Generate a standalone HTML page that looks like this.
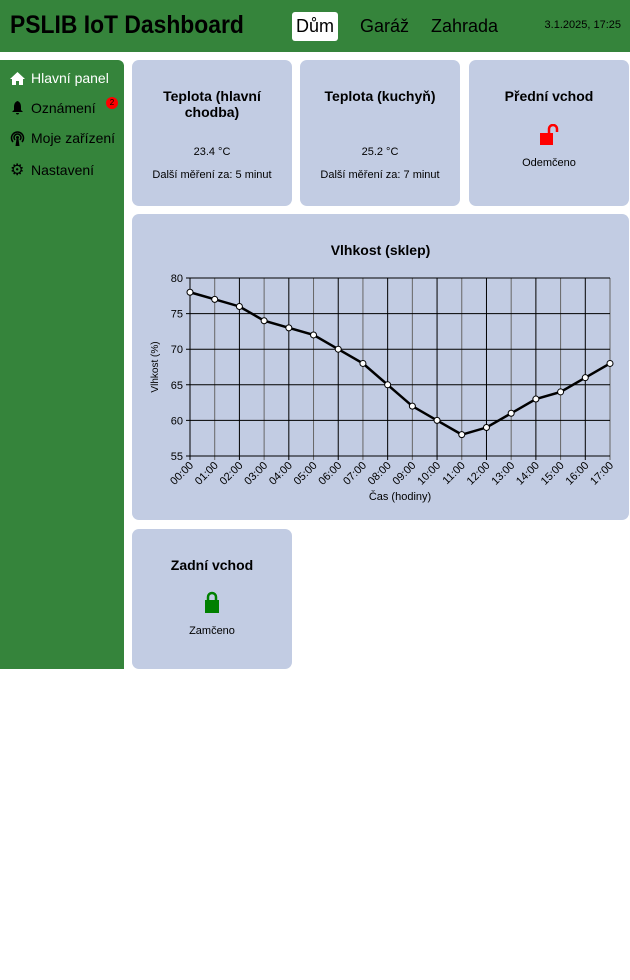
<!DOCTYPE html>
<html><head><meta charset="utf-8"><style>
*{box-sizing:border-box;margin:0;padding:0}
body{width:630px;height:980px;background:#fff;font-family:"Liberation Sans",sans-serif;position:relative;overflow:hidden}
#hdr{position:absolute;left:0;top:0;width:630px;height:52px;background:#35843b}
#title{position:absolute;left:10px;top:11px;font-size:25px;font-weight:bold;color:#000;transform:scaleX(0.915);transform-origin:0 0;white-space:nowrap}
.nav{position:absolute;top:12px;height:29px;font-size:18px;line-height:29px;padding:0 4px;color:#000;border-radius:3px}
#date{position:absolute;right:9px;top:19px;font-size:11px}
#side{position:absolute;left:0;top:60px;width:124px;height:609px;background:#35843b;border-radius:0 6px 0 0}
.si{position:absolute;left:10px;font-size:14px;color:#000;display:flex;align-items:center;gap:6px;white-space:nowrap}
.card{position:absolute;background:#c2cce3;border-radius:7px;text-align:center}
.ct{font-weight:bold;font-size:14px;line-height:16px}
.cs{font-size:11px}
</style></head><body>
<div id="hdr">
<div id="title">PSLIB IoT Dashboard</div>
<div class="nav" style="left:292px;background:#fff">Dům</div>
<div class="nav" style="left:356px">Garáž</div>
<div class="nav" style="left:427px">Zahrada</div>
<div id="date">3.1.2025, 17:25</div>
</div>
<div id="side">
<div class="si" style="top:10px;color:#fff"><svg width="15" height="13"><path d="M7.5 0L0 7h2v6h4V9h3v4h4V7h2z" fill="#fff"/></svg>Hlavní panel</div>
<div class="si" style="top:40px"><svg width="15" height="14"><path d="M7.5 0C5 1 4 3 4 6v3L2 11h11l-2-2V6c0-3-1-5-3.5-6zM6 12h3a1.5 1.5 0 0 1-3 0z" fill="#000"/></svg>Oznámení<span style="position:absolute;left:96px;top:-3px;width:12px;height:12px;border-radius:6px;background:red;font-size:8px;line-height:12px;text-align:center;color:#000">2</span></div>
<div class="si" style="top:70px"><svg width="15" height="15"><g fill="none" stroke="#000" stroke-width="1.5"><path d="M3 11a6 6 0 1 1 9 0"/><path d="M5 9a3.5 3.5 0 1 1 5 0"/></g><circle cx="7.5" cy="6.5" r="1.5"/><path d="M6.5 8h2l1 7h-4z"/></svg>Moje zařízení</div>
<div class="si" style="top:100px"><span style="font-size:16px;width:15px">⚙</span>Nastavení</div>
</div>
<div class="card" style="left:132px;top:60px;width:160px;height:146px">
<div class="ct" style="margin-top:28px">Teplota (hlavní<br>chodba)</div>
<div class="cs" style="margin-top:26px">23.4 °C</div>
<div class="cs" style="margin-top:11px">Další měření za: 5 minut</div></div>
<div class="card" style="left:300px;top:60px;width:160px;height:146px">
<div class="ct" style="margin-top:28px">Teplota (kuchyň)</div>
<div class="cs" style="margin-top:42px">25.2 °C</div>
<div class="cs" style="margin-top:11px">Další měření za: 7 minut</div></div>
<div class="card" style="left:469px;top:60px;width:160px;height:146px">
<div class="ct" style="margin-top:28px">Přední vchod</div>
<svg width="24" height="22" style="margin-top:20px;margin-left:4px"><rect x="1" y="9" width="13" height="12" fill="red"/><path d="M10 10V5a4 4 0 0 1 8 0v3" stroke="red" stroke-width="2.5" fill="none"/></svg>
<div class="cs" style="margin-top:6px">Odemčeno</div></div>
<div class="card" style="left:132px;top:214px;width:497px;height:306px">
<div class="ct" style="margin-top:28px">Vlhkost (sklep)</div></div>
<svg style="position:absolute;left:0;top:0" width="630" height="980" id="ch"></svg>
<div class="card" style="left:132px;top:529px;width:160px;height:140px">
<div class="ct" style="margin-top:28px">Zadní vchod</div>
<svg width="16" height="22" style="margin-top:18px"><rect x="1" y="9" width="14" height="13" fill="green"/><path d="M4 9V6a4 4 0 0 1 8 0v3" stroke="green" stroke-width="2.5" fill="none"/></svg>
<div class="cs" style="margin-top:7px">Zamčeno</div></div>
<script>
const categories=["00:00","01:00","02:00","03:00","04:00","05:00","06:00","07:00","08:00","09:00","10:00","11:00","12:00","13:00","14:00","15:00","16:00","17:00"];
const humidity=[78,77,76,74,73,72,70,68,65,62,60,58,59,61,63,64,66,68];
const yTicks=[55,60,65,70,75,80];
const NS="http://www.w3.org/2000/svg",svg=document.getElementById('ch');
const x0=190,x1=610,yTop=278,yBot=456;
const xs=i=>x0+i*(x1-x0)/(categories.length-1);
const ys=v=>yBot-(v-55)/(80-55)*(yBot-yTop);
function mk(t,a){const e=document.createElementNS(NS,t);for(const k in a)e.setAttribute(k,a[k]);svg.appendChild(e);return e;}
categories.forEach((c,i)=>{
 const l=mk('line',{x1:xs(i),x2:xs(i),y1:yTop,y2:yBot+4,stroke:i%2?'#666':'#000','stroke-width':1});
 
 
 const t=mk('text',{transform:`translate(${xs(i)+4},${yBot+10}) rotate(-45)`,'text-anchor':'end','font-size':11,'font-family':'Liberation Sans'});
 t.textContent=c;
 
 
});
yTicks.forEach(v=>{
 const l=mk('line',{x1:x0-4,x2:x1,y1:ys(v),y2:ys(v),stroke:'#000','stroke-width':1});
 
 
 const t=mk('text',{x:x0-7,y:ys(v)+4,'text-anchor':'end','font-size':11,'font-family':'Liberation Sans'});
 t.textContent=v;
 
 
});
const ln=mk('polyline',{points:humidity.map((v,i)=>xs(i)+','+ys(v)).join(' '),fill:'none',stroke:'#000','stroke-width':2.5});


humidity.forEach((v,i)=>{
 const c=mk('circle',{cx:xs(i),cy:ys(v),r:3,fill:'#fff',stroke:'#000','stroke-width':1});
 
 
});
const yt=mk('text',{transform:`translate(158,${(yTop+yBot)/2}) rotate(-90)`,'text-anchor':'middle','font-size':10,'font-family':'Liberation Sans'});
yt.textContent='Vlhkost (%)';


const xt=mk('text',{x:(x0+x1)/2,y:500,'text-anchor':'middle','font-size':11,'font-family':'Liberation Sans'});
xt.textContent='Čas (hodiny)';


</script>
</body></html>
